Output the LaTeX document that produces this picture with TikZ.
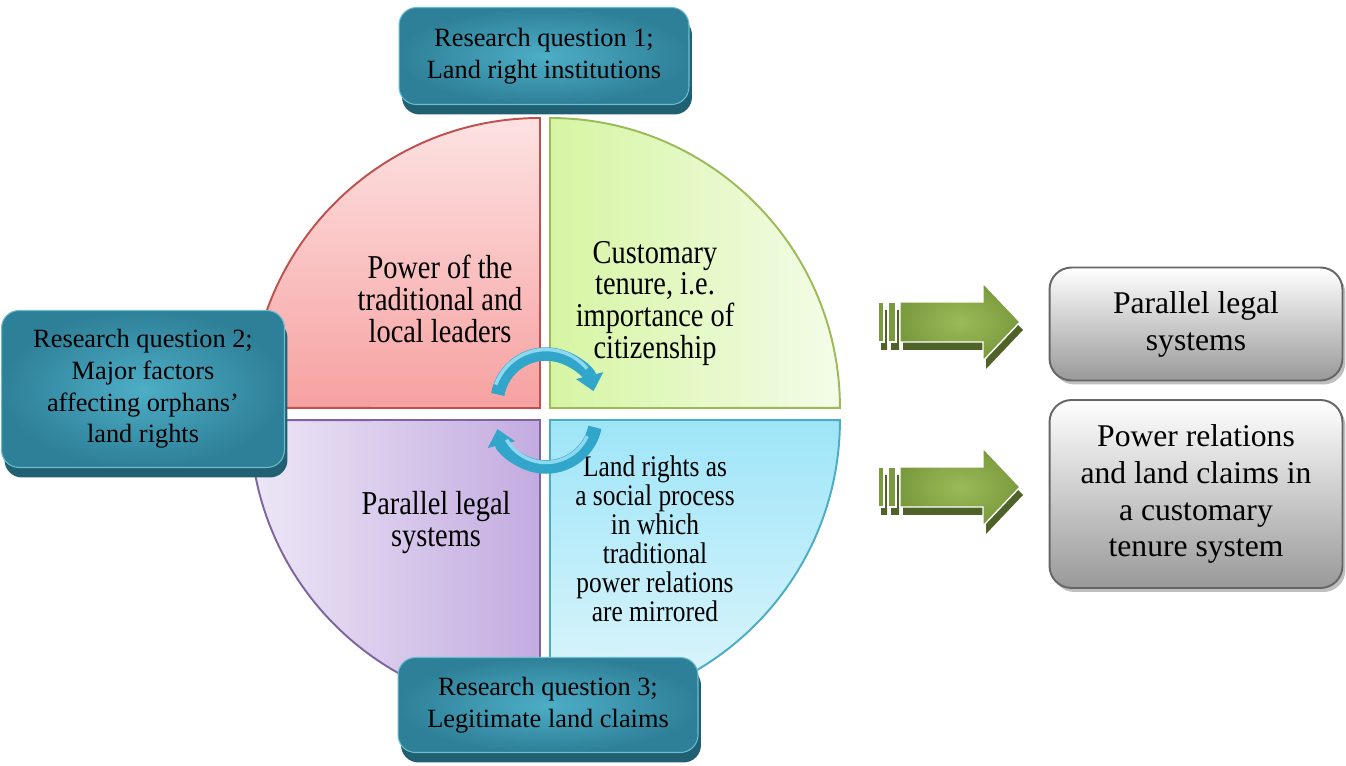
\documentclass[tikz,border=0pt]{standalone}
\usepackage{fontspec}
\setmainfont{Liberation Serif}
\usepackage{xcolor}
\usepackage{graphicx}
\usepackage{tikz}
\usetikzlibrary{positioning,shadows,arrows.meta}

\definecolor{rqlight}{HTML}{4DAEC6}
\definecolor{rqdark}{HTML}{2E8098}
\definecolor{rqedge}{HTML}{6CBCD0}
\definecolor{rqshadow}{HTML}{215F72}
\definecolor{ringblue}{HTML}{31A6CA}
\definecolor{ringlight}{HTML}{8ED9EF}
\definecolor{arrowgreen}{HTML}{9BBB59}
\definecolor{arrowmid}{HTML}{7A9A3E}
\definecolor{arrowdark}{HTML}{4F6228}
\definecolor{pinkedge}{HTML}{C0504D}
\definecolor{pinktop}{HTML}{FDE2E2}
\definecolor{pinkbottom}{HTML}{F7A1A1}
\definecolor{limeleft}{HTML}{D6F5A3}
\definecolor{limeright}{HTML}{F4FCE8}
\definecolor{lilacedge}{HTML}{8064A2}
\definecolor{lilacleft}{HTML}{EDE7F6}
\definecolor{lilacright}{HTML}{C3ABE0}
\definecolor{skyedge}{HTML}{4BACC6}
\definecolor{skytop}{HTML}{9EE5F8}
\definecolor{skybottom}{HTML}{E1F6FC}
\newcommand{\narrowlines}[1]{\scalebox{0.85}[1]{\begin{tabular}{@{}c@{}}#1\end{tabular}}}

\begin{document}
\begin{tikzpicture}[x=0.02cm, y=0.02cm,
    quadtext/.style={align=center, inner sep=0pt, font=\fontsize{19}{16.6}\selectfont},
    question/.style={rounded corners=0.35cm, inner color=rqlight, outer color=rqdark,
        draw=rqedge, line width=0.6pt, align=center, font=\fontsize{15}{18}\selectfont,
        drop shadow={shadow xshift=0.06cm, shadow yshift=-0.2cm, fill=rqshadow, opacity=1}},
    outcome/.style={rounded corners=0.44cm, top color=white, bottom color=black!40,
        draw=black!60, line width=1.1pt, align=center, font=\fontsize{18}{21}\selectfont,
        minimum width=5.86cm,
        drop shadow={shadow xshift=0.06cm, shadow yshift=-0.08cm, fill=black!25, opacity=1}},
    ring/.style={line width=0.27cm, ringblue, -{Triangle[width=0.54cm, length=0.32cm]}},
    ringshine/.style={line width=0.07cm, ringlight}]
    \useasboundingbox (0,0) rectangle (1346,765);

    % four quadrants
    \path[draw=pinkedge, line width=1.1pt, top color=pinktop, bottom color=pinkbottom]
        (540,357) -- ++(0,290) arc[start angle=90, end angle=180, radius=5.8cm] -- cycle;
    \path[draw=arrowgreen, line width=1.1pt, left color=limeleft, right color=limeright]
        (550,357) -- ++(0,290) arc[start angle=90, end angle=0, radius=5.8cm] -- cycle;
    \path[draw=lilacedge, line width=1.1pt, left color=lilacleft, right color=lilacright]
        (540,345) -- ++(0,-290) arc[start angle=270, end angle=180, radius=5.8cm] -- cycle;
    \path[draw=skyedge, line width=1.1pt, top color=skytop, bottom color=skybottom]
        (550,345) -- ++(0,-290) arc[start angle=-90, end angle=0, radius=5.8cm] -- cycle;

    \node[quadtext] (power) at (440,462) {\narrowlines{Power of the\\traditional and\\local leaders}};
    \node[quadtext] (tenure) at (655,461) {\narrowlines{Customary\\tenure, i.e.\\importance of\\citizenship}};
    \node[quadtext, font=\fontsize{19}{18.5}\selectfont] (parallel) at (436,241)
        {\narrowlines{Parallel legal\\systems}};
    \node[quadtext, font=\fontsize{17}{15.6}\selectfont] (mirror) at (655,222)
        {\narrowlines{Land rights as\\a social process\\in which\\traditional\\power relations\\are mirrored}};

    % circular arrows
    \draw[ring] (546,362) ++(170:0.98cm) arc[start angle=170, end angle=14, radius=0.98cm];
    \draw[ringshine] (546,362) ++(160:1.07cm) arc[start angle=160, end angle=40, radius=1.07cm];
    \draw[ring] (546,348) ++(-12:1cm) arc[start angle=-12, end angle=-166, radius=1cm];
    \draw[ringshine] (546,348) ++(-25:0.91cm) arc[start angle=-25, end angle=-150, radius=0.91cm];

    % research questions
    \node[question, minimum width=5.8cm, minimum height=1.94cm] (rq1) at (544,709)
        {Research question 1;\\Land right institutions};
    \node[question, minimum width=5.66cm, minimum height=3.14cm] (rq2) at (143,376)
        {Research question 2;\\Major factors\\affecting orphans'\\land rights};
    \node[question, minimum width=6cm, minimum height=1.9cm] (rq3) at (548,60)
        {Research question 3;\\Legitimate land claims};

    % block arrows
    \foreach \y in {443,278} {
        \fill[arrowdark, xshift=0.06cm, yshift=-0.16cm]
            (900,\y+20) -- (983,\y+20) -- (983,\y+39) -- (1020,\y) -- (983,\y-39)
            -- (983,\y-20) -- (900,\y-20) -- cycle
            (878,\y-20) rectangle (884,\y+20) (888,\y-20) rectangle (896,\y+20);
        \path[draw=white, line width=0.8pt, inner color=arrowgreen, outer color=arrowmid]
            (900,\y+20) -- (983,\y+20) -- (983,\y+39) -- (1020,\y) -- (983,\y-39)
            -- (983,\y-20) -- (900,\y-20) -- cycle;
        \path[draw=white, line width=0.8pt, fill=arrowmid]
            (878,\y-20) rectangle (884,\y+20) (888,\y-20) rectangle (896,\y+20);
    }

    % outcomes
    \node[outcome, minimum height=2.26cm] (legal) at (1196,441) {Parallel legal\\systems};
    \node[outcome, minimum height=3.76cm] (claims) at (1196,271)
        {Power relations\\and land claims in\\a customary\\tenure system};
\end{tikzpicture}
\end{document}
